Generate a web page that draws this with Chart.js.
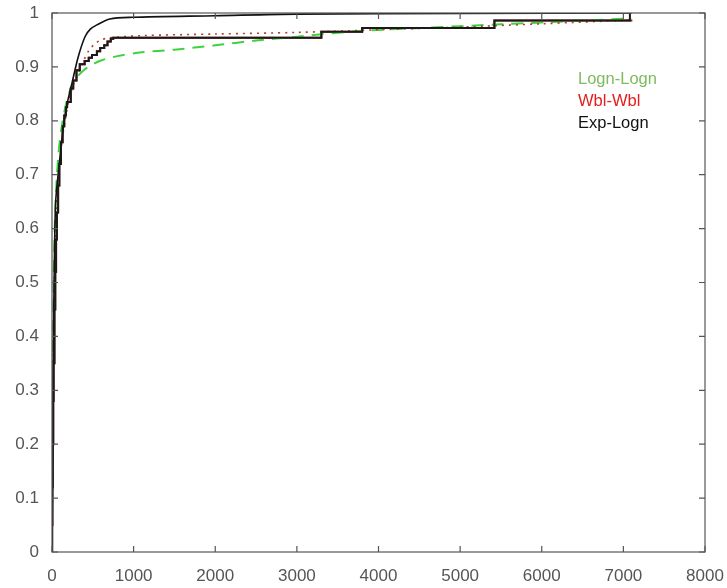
<!DOCTYPE html>
<html>
<head>
<meta charset="utf-8">
<script src="https://cdn.jsdelivr.net/npm/chart.js@4.4.1/dist/chart.umd.min.js"></script>
<style>
  html, body { margin: 0; padding: 0; background: #fff; }
  #wrap { width: 727px; height: 588px; }
</style>
</head>
<body>
<div id="wrap"><canvas id="cdf"></canvas></div>
<script>
// tick labels
var xTicks = [0, 1000, 2000, 3000, 4000, 5000, 6000, 7000, 8000];
var yTicks = [0, 0.1, 0.2, 0.3, 0.4, 0.5, 0.6, 0.7, 0.8, 0.9, 1];

// empirical cdf (steps)
var ecdfX = [0, 2, 5, 10, 15, 20, 30, 40, 50, 60, 75, 90, 110, 130, 150, 170, 185, 230, 260, 300, 340, 400, 450, 490, 550, 590, 640, 680, 720, 750, 3300, 3800, 5420, 7080];
var ecdfY = [0, 0.05, 0.12, 0.2, 0.28, 0.35, 0.45, 0.52, 0.58, 0.63, 0.68, 0.72, 0.76, 0.79, 0.81, 0.825, 0.835, 0.86, 0.875, 0.894, 0.905, 0.911, 0.917, 0.922, 0.929, 0.935, 0.94, 0.947, 0.952, 0.954, 0.965, 0.972, 0.986, 1.0];
var ecdf2X = [0, 2, 5, 10, 15, 20, 30, 40, 50, 60, 75, 90, 110, 130, 150, 170, 185, 230, 260, 300, 340, 400, 450, 490, 550, 590, 640, 680, 720, 750, 3300, 3800, 5420, 7110];
var ecdf2Y = [0, 0.05, 0.12, 0.2, 0.28, 0.35, 0.45, 0.52, 0.58, 0.63, 0.68, 0.72, 0.76, 0.79, 0.81, 0.825, 0.835, 0.86, 0.875, 0.894, 0.905, 0.911, 0.917, 0.922, 0.929, 0.935, 0.94, 0.947, 0.952, 0.954, 0.965, 0.972, 0.986, 0.986];

// fitted cdfs
var lognX = [0, 5, 15, 30, 50, 80, 120, 170, 230, 300, 400, 500, 600, 800, 1100, 1500, 2000, 2500, 3000, 3700, 4500, 5500, 6500, 7100];
var lognY = [0, 0.2, 0.42, 0.58, 0.67, 0.74, 0.79, 0.83, 0.86, 0.88, 0.895, 0.905, 0.912, 0.92, 0.927, 0.932, 0.94, 0.949, 0.956, 0.966, 0.972, 0.979, 0.986, 0.99];

var wblX = [0, 5, 15, 30, 50, 80, 120, 160, 210, 270, 330, 380, 450, 520, 600, 710, 1100, 2000, 3000, 4000, 5000, 6000, 7100];
var wblY = [0, 0.15, 0.35, 0.52, 0.63, 0.70, 0.76, 0.80, 0.84, 0.87, 0.89, 0.909, 0.93, 0.942, 0.95, 0.954, 0.958, 0.961, 0.964, 0.969, 0.974, 0.98, 0.987];

var expX = [0, 5, 15, 30, 45, 75, 110, 150, 190, 245, 320, 404, 470, 550, 710, 990, 2000, 3000, 5000, 7100];
var expY = [0, 0.15, 0.35, 0.55, 0.65, 0.70, 0.75, 0.80, 0.835, 0.87, 0.918, 0.956, 0.97, 0.978, 0.989, 0.992, 0.995, 0.998, 0.999, 1.0];

var legendNames = ['Logn-Logn', 'Wbl-Wbl', 'Exp-Logn'];
var legendColors = ['#7dbb5e', '#e3201f', '#111111'];

function pts(xs, ys) {
  return xs.map(function (v, i) { return { x: v, y: ys[i] }; });
}

var boxPlugin = {
  id: 'box',
  afterDraw: function (chart) {
    var ctx = chart.ctx, a = chart.chartArea;
    var x = chart.scales.x, y = chart.scales.y;
    ctx.save();
    ctx.strokeStyle = '#555';
    ctx.lineWidth = 1.2;
    ctx.strokeRect(a.left, a.top, a.right - a.left, a.bottom - a.top);
    ctx.beginPath();
    xTicks.forEach(function (v) {
      var px = x.getPixelForValue(v);
      ctx.moveTo(px, a.bottom); ctx.lineTo(px, a.bottom - 6);
      ctx.moveTo(px, a.top); ctx.lineTo(px, a.top + 6);
    });
    yTicks.forEach(function (v) {
      var py = y.getPixelForValue(v);
      ctx.moveTo(a.left, py); ctx.lineTo(a.left + 6, py);
      ctx.moveTo(a.right, py); ctx.lineTo(a.right - 6, py);
    });
    ctx.stroke();

    // legend text, inside the axes
    ctx.font = '16.5px "Liberation Sans", Arial, sans-serif';
    ctx.textBaseline = 'middle';
    ctx.textAlign = 'left';
    legendNames.forEach(function (n, i) {
      ctx.fillStyle = legendColors[i];
      ctx.fillText(n, 578, 79 + i * 22);
    });
    ctx.restore();
  }
};

var ctx = document.getElementById('cdf').getContext('2d');
new Chart(ctx, {
  type: 'line',
  data: {
    datasets: [
      { label: 'ECDF', data: pts(ecdfX, ecdfY), stepped: 'before', borderColor: '#1a1a1a', borderWidth: 2, pointRadius: 0, fill: false, order: 1 },
      { label: 'ECDF2', data: pts(ecdf2X, ecdf2Y), stepped: 'before', borderColor: '#8a2020', borderWidth: 2, pointRadius: 0, fill: false, order: 5 },
      { label: 'Exp-Logn', data: pts(expX, expY), borderColor: '#111', borderWidth: 1.6, pointRadius: 0, fill: false, tension: 0.3, order: 2 },
      { label: 'Wbl-Wbl', data: pts(wblX, wblY), borderColor: '#c0392b', borderWidth: 1.6, borderDash: [2, 5], pointRadius: 0, fill: false, tension: 0.3, order: 3 },
      { label: 'Logn-Logn', data: pts(lognX, lognY), borderColor: '#3fd23f', borderWidth: 2, borderDash: [12, 8], pointRadius: 0, fill: false, tension: 0.3, order: 4 }
    ]
  },
  options: {
    responsive: true,
    maintainAspectRatio: false,
    animation: false,
    layout: { padding: 0 },
    plugins: { legend: { display: false }, tooltip: { enabled: false } },
    scales: {
      x: {
        type: 'linear', min: 0, max: 8000,
        afterBuildTicks: function (s) { s.ticks = xTicks.map(function (v) { return { value: v }; }); },
        afterFit: function (s) { s.height = 36; s.paddingRight = 22; s.paddingLeft = 0; },
        grid: { display: false, drawTicks: false },
        border: { display: false },
        ticks: {
          padding: 14, color: '#555', maxRotation: 0, autoSkip: false,
          font: { size: 17, family: '"Liberation Sans", Arial, sans-serif' },
          callback: function (v) { return String(v); }
        }
      },
      y: {
        type: 'linear', min: 0, max: 1,
        afterBuildTicks: function (s) { s.ticks = yTicks.map(function (v) { return { value: v }; }); },
        afterFit: function (s) { s.width = 52; s.paddingTop = 13; s.paddingBottom = 0; },
        grid: { display: false, drawTicks: false },
        border: { display: false },
        ticks: {
          padding: 13, color: '#555', autoSkip: false,
          font: { size: 17, family: '"Liberation Sans", Arial, sans-serif' },
          callback: function (v) { return (v === 0 || v === 1) ? String(v) : v.toFixed(1); }
        }
      }
    }
  },
  plugins: [boxPlugin]
});
</script>
</body>
</html>
